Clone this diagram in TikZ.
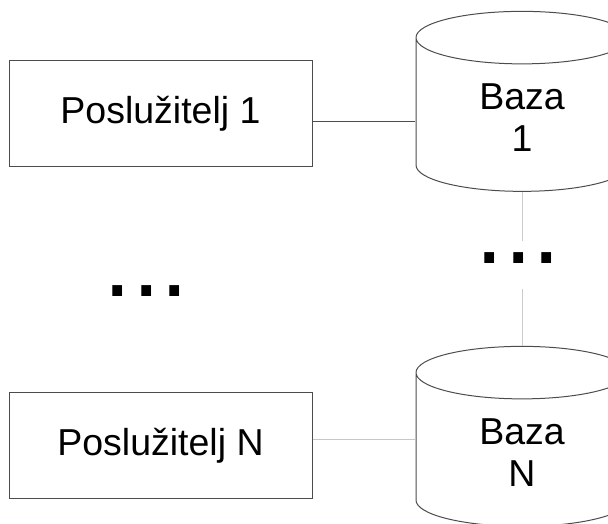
\documentclass[tikz,border=0pt]{standalone}
\usepackage{fontspec}
\setmainfont{Liberation Sans}
\usetikzlibrary{shapes.geometric}

\begin{document}
\begin{tikzpicture}[x = 1pt, y = -1pt, line width = 1pt,
        server/.style = {draw = black!70, minimum width = 303pt, minimum height = 106pt,
            font = \fontsize{37.5}{42}\selectfont},
        base/.style = {draw = black!70, cylinder, shape border rotate = 90, aspect = 0.57,
            minimum width = 212pt, minimum height = 180pt, align = center,
            font = \fontsize{37.5}{42}\selectfont},
        more/.style = {inner xsep = 0pt, inner ysep = 11pt, text depth = 14pt,
            anchor = base, font = \fontsize{102}{102}\selectfont}]
        \clip (0, 0) rectangle (608, 524);
        \node[server] at (160.5, 114) (server_one) {Poslužitelj 1};
        \node[server] at (160.5, 445.5) (server_n) {Poslužitelj N};
        \node[base] at (522, 118) (base_one) {Baza\\1};
        \node[base] at (522, 453) (base_n) {Baza\\N};
        \node[more] at (146.5, 296) (more_servers) {...};
        \node[more] at (518.5, 263) (more_bases) {...};
        \draw[black!70]
            ([yshift = -7.5pt] server_one.east)
            -- ([yshift = -7.5pt] server_one.east -| base_one.west);
        \draw[black!22]
            ([yshift = 6.5pt] server_n.east)
            -- ([yshift = 6.5pt] server_n.east -| base_n.west);
        \draw[black!20] (base_one.south) -- (base_one.south |- more_bases.north);
        \draw[black!20] (base_n.north |- more_bases.south) -- (base_n.north);
    \end{tikzpicture}
\end{document}
